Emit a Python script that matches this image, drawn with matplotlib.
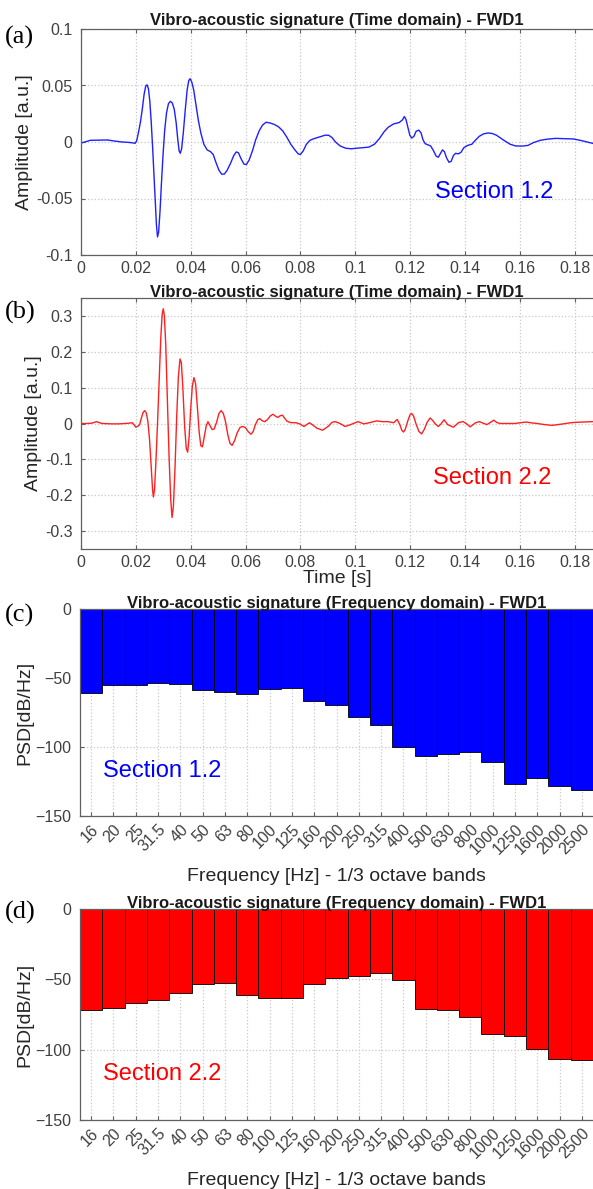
import numpy as np
import matplotlib
matplotlib.use("Agg")
from matplotlib import pyplot as plt
from matplotlib.ticker import FuncFormatter

plt.rcParams["font.family"] = ["Liberation Sans", "DejaVu Sans"]

# panel (a): time signal, section 1.2 -> (time [s], amplitude)
signal_a = np.array([
    (0.0000, -0.0009), (0.0014, 0.0000), (0.0034, 0.0015), (0.0070, 0.0017), (0.0097, 0.0018),
    (0.0117, 0.0010), (0.0150, 0.0000), (0.0172, -0.0003), (0.0190, -0.0008), (0.0197, -0.0012),
    (0.0203, 0.0010), (0.0210, 0.0090), (0.0217, 0.0180), (0.0224, 0.0300), (0.0230, 0.0420),
    (0.0236, 0.0495), (0.0241, 0.0506), (0.0246, 0.0470), (0.0251, 0.0360), (0.0256, 0.0180),
    (0.0261, -0.0040), (0.0266, -0.0290), (0.0271, -0.0540), (0.0275, -0.0730), (0.0279, -0.0840),
    (0.0283, -0.0800), (0.0288, -0.0620), (0.0293, -0.0380), (0.0299, -0.0120), (0.0305, 0.0100),
    (0.0312, 0.0260), (0.0319, 0.0340), (0.0326, 0.0360), (0.0333, 0.0345), (0.0340, 0.0290),
    (0.0347, 0.0170), (0.0353, 0.0020), (0.0358, -0.0080), (0.0362, -0.0100), (0.0367, -0.0060),
    (0.0373, 0.0080), (0.0380, 0.0280), (0.0387, 0.0460), (0.0393, 0.0545), (0.0398, 0.0560),
    (0.0404, 0.0530), (0.0411, 0.0460), (0.0419, 0.0330), (0.0428, 0.0190), (0.0437, 0.0080),
    (0.0448, -0.0020), (0.0460, -0.0070), (0.0472, -0.0085), (0.0482, -0.0110), (0.0492, -0.0180),
    (0.0503, -0.0250), (0.0513, -0.0285), (0.0523, -0.0283), (0.0533, -0.0250), (0.0545, -0.0190),
    (0.0557, -0.0120), (0.0566, -0.0088), (0.0574, -0.0095), (0.0584, -0.0150), (0.0594, -0.0195),
    (0.0603, -0.0200), (0.0613, -0.0160), (0.0625, -0.0080), (0.0637, 0.0020), (0.0650, 0.0100),
    (0.0662, 0.0150), (0.0675, 0.0175), (0.0690, 0.0168), (0.0705, 0.0155), (0.0720, 0.0135),
    (0.0735, 0.0100), (0.0750, 0.0045), (0.0765, -0.0020), (0.0780, -0.0070), (0.0792, -0.0105),
    (0.0800, -0.0110), (0.0810, -0.0080), (0.0822, -0.0020), (0.0835, 0.0015), (0.0850, 0.0030),
    (0.0870, 0.0045), (0.0890, 0.0060), (0.0903, 0.0060), (0.0915, 0.0040), (0.0928, 0.0000),
    (0.0945, -0.0035), (0.0965, -0.0055), (0.0985, -0.0060), (0.1005, -0.0055), (0.1030, -0.0050),
    (0.1050, -0.0045), (0.1070, -0.0020), (0.1088, 0.0030), (0.1105, 0.0090), (0.1120, 0.0130),
    (0.1140, 0.0160), (0.1160, 0.0172), (0.1172, 0.0195), (0.1179, 0.0225), (0.1185, 0.0200),
    (0.1192, 0.0130), (0.1199, 0.0060), (0.1206, 0.0035), (0.1214, 0.0050), (0.1222, 0.0095),
    (0.1232, 0.0105), (0.1240, 0.0080), (0.1247, 0.0020), (0.1255, -0.0015), (0.1265, -0.0025),
    (0.1275, -0.0035), (0.1285, -0.0075), (0.1295, -0.0125), (0.1303, -0.0135), (0.1311, -0.0100),
    (0.1318, -0.0070), (0.1325, -0.0085), (0.1333, -0.0140), (0.1342, -0.0180), (0.1350, -0.0170),
    (0.1358, -0.0120), (0.1366, -0.0100), (0.1376, -0.0105), (0.1386, -0.0090), (0.1396, -0.0050),
    (0.1410, -0.0030), (0.1425, -0.0020), (0.1438, 0.0015), (0.1452, 0.0050), (0.1468, 0.0072),
    (0.1485, 0.0080), (0.1500, 0.0075), (0.1515, 0.0060), (0.1530, 0.0035), (0.1545, 0.0010),
    (0.1565, -0.0020), (0.1585, -0.0035), (0.1610, -0.0036), (0.1630, -0.0030), (0.1650, -0.0005),
    (0.1675, 0.0015), (0.1700, 0.0025), (0.1730, 0.0032), (0.1760, 0.0030), (0.1795, 0.0027),
    (0.1820, 0.0015), (0.1845, 0.0000), (0.1866, -0.0012),
])

# panel (b): time signal, section 2.2 -> (time [s], amplitude)
signal_b = np.array([
    (0.0000, 0.0000), (0.0023, 0.0000), (0.0040, 0.0010), (0.0057, 0.0052), (0.0068, 0.0020),
    (0.0078, 0.0000), (0.0110, -0.0010), (0.0139, -0.0010), (0.0170, 0.0005), (0.0187, 0.0021),
    (0.0195, -0.0050), (0.0200, -0.0104), (0.0207, -0.0080), (0.0214, -0.0031), (0.0220, 0.0150),
    (0.0226, 0.0300), (0.0232, 0.0360), (0.0238, 0.0300), (0.0244, 0.0050), (0.0250, -0.0450),
    (0.0256, -0.1200), (0.0261, -0.1850), (0.0264, -0.2050), (0.0268, -0.1850), (0.0273, -0.1100),
    (0.0279, 0.0000), (0.0285, 0.1200), (0.0291, 0.2400), (0.0296, 0.3050), (0.0300, 0.3200),
    (0.0304, 0.3000), (0.0309, 0.2200), (0.0315, 0.0700), (0.0321, -0.0900), (0.0327, -0.2100),
    (0.0332, -0.2620), (0.0337, -0.2300), (0.0343, -0.1200), (0.0349, 0.0200), (0.0355, 0.1300),
    (0.0361, 0.1800), (0.0366, 0.1700), (0.0372, 0.0900), (0.0378, -0.0100), (0.0384, -0.0700),
    (0.0389, -0.0800), (0.0394, -0.0400), (0.0400, 0.0400), (0.0406, 0.1050), (0.0412, 0.1280),
    (0.0418, 0.1100), (0.0424, 0.0500), (0.0431, -0.0250), (0.0437, -0.0620), (0.0443, -0.0650),
    (0.0450, -0.0350), (0.0457, -0.0050), (0.0463, 0.0050), (0.0470, -0.0050), (0.0478, -0.0170),
    (0.0486, -0.0150), (0.0495, 0.0050), (0.0503, 0.0280), (0.0511, 0.0360), (0.0519, 0.0280),
    (0.0527, 0.0050), (0.0535, -0.0300), (0.0543, -0.0550), (0.0551, -0.0610), (0.0560, -0.0480),
    (0.0570, -0.0250), (0.0580, -0.0110), (0.0590, -0.0080), (0.0600, -0.0120), (0.0610, -0.0230),
    (0.0620, -0.0300), (0.0628, -0.0220), (0.0636, -0.0030), (0.0645, 0.0110), (0.0652, 0.0135),
    (0.0660, 0.0080), (0.0670, 0.0050), (0.0680, 0.0110), (0.0690, 0.0210), (0.0700, 0.0259),
    (0.0710, 0.0200), (0.0718, 0.0170), (0.0727, 0.0220), (0.0735, 0.0230), (0.0743, 0.0140),
    (0.0752, 0.0060), (0.0765, 0.0025), (0.0785, 0.0020), (0.0800, -0.0020), (0.0813, -0.0083),
    (0.0823, -0.0030), (0.0833, 0.0021), (0.0845, -0.0040), (0.0860, -0.0130), (0.0881, -0.0187),
    (0.0901, -0.0083), (0.0915, 0.0030), (0.0926, 0.0052), (0.0942, 0.0010), (0.0963, -0.0083),
    (0.0983, -0.0031), (0.1010, 0.0052), (0.1031, -0.0010), (0.1051, 0.0021), (0.1078, 0.0073),
    (0.1099, 0.0052), (0.1119, 0.0052), (0.1140, 0.0021), (0.1153, 0.0114), (0.1162, -0.0020),
    (0.1170, -0.0190), (0.1176, -0.0238), (0.1182, -0.0170), (0.1192, 0.0080), (0.1200, 0.0250),
    (0.1206, 0.0280), (0.1213, 0.0200), (0.1222, -0.0020), (0.1232, -0.0220), (0.1242, -0.0290),
    (0.1252, -0.0160), (0.1262, 0.0030), (0.1273, 0.0155), (0.1283, 0.0080), (0.1293, -0.0020),
    (0.1303, -0.0083), (0.1313, -0.0010), (0.1324, 0.0104), (0.1337, -0.0031), (0.1358, -0.0104),
    (0.1378, 0.0031), (0.1394, 0.0052), (0.1408, -0.0020), (0.1419, -0.0093), (0.1430, -0.0030),
    (0.1439, 0.0021), (0.1453, 0.0052), (0.1466, 0.0010), (0.1480, -0.0031), (0.1493, 0.0030),
    (0.1505, 0.0093), (0.1516, 0.0030), (0.1528, 0.0000), (0.1555, 0.0000), (0.1582, 0.0000),
    (0.1600, 0.0020), (0.1623, 0.0041), (0.1645, 0.0015), (0.1664, 0.0000), (0.1690, -0.0030),
    (0.1718, -0.0052), (0.1740, -0.0030), (0.1759, -0.0010), (0.1780, 0.0015), (0.1800, 0.0031),
    (0.1830, 0.0040), (0.1865, 0.0052),
])

# panels (c), (d): 1/3 octave band PSD [dB/Hz]
bands = ["16", "20", "25", "31.5", "40", "50", "63", "80", "100", "125", "160", "200",
         "250", "315", "400", "500", "630", "800", "1000", "1250", "1600", "2000", "2500"]
psd_c = [-61, -55, -55, -53.5, -54, -59, -60, -61.4, -58.3, -57.5, -67, -69.4,
         -77.9, -84.2, -100.2, -106.6, -105.3, -103.4, -110.7, -127, -122.8, -128.4, -131]
psd_d = [-72, -70.3, -67.1, -65, -59.7, -53.4, -52.9, -60.9, -63.3, -63.3, -53.6, -49.3,
         -47.3, -45.2, -50.5, -70.8, -71.5, -76.8, -88.6, -90.1, -99.8, -106.8, -107.5]

W, H = 593, 1189
TICK_COLOR = "#404040"
GRID_COLOR = "#c8c8c8"
TITLE_TIME = "Vibro-acoustic signature (Time domain) - FWD1"
TITLE_FREQ = "Vibro-acoustic signature (Frequency domain) - FWD1"


def rect(left, top, right, bottom):
    return [left / W, 1 - bottom / H, (right - left) / W, (bottom - top) / H]


def style(ax, title, pad=3):
    ax.set_title(title, fontsize=12, fontweight="bold", color="#1a1a1a", pad=pad)
    ax.grid(True, linestyle=":", color=GRID_COLOR, linewidth=0.9)
    ax.set_axisbelow(True)
    for sp in ax.spines.values():
        sp.set_color("#606060")
        sp.set_linewidth(0.9)
    ax.spines["right"].set_visible(False)
    ax.tick_params(direction="in", top=True, length=3, color="#606060",
                   labelsize=11.5, labelcolor=TICK_COLOR, pad=6)


fmt = FuncFormatter(lambda v, _: f"{v:g}" if abs(v) > 1e-12 else "0")

fig = plt.figure(figsize=(W / 100, H / 100), dpi=100)

# (a)
ax = fig.add_axes(rect(81, 29, 593, 255))
ax.plot(signal_a[:, 0], signal_a[:, 1], color="#1f1fff", linewidth=1.0)
ax.set_xlim(0, 0.1867)
ax.set_ylim(-0.1, 0.1)
ax.set_xticks(np.arange(0, 0.19, 0.02))
ax.set_yticks([-0.1, -0.05, 0, 0.05, 0.1])
ax.xaxis.set_major_formatter(fmt)
ax.yaxis.set_major_formatter(fmt)
style(ax, TITLE_TIME)
ax.tick_params(axis="x", pad=4)
ax.set_ylabel("Amplitude [a.u.]", fontsize=14, color="#262626", labelpad=2)
ax.text(0.129, -0.044, "Section 1.2", color="#0000ff", fontsize=17, va="center")

# (b)
ax = fig.add_axes(rect(81, 298, 593, 549))
ax.plot(signal_b[:, 0], signal_b[:, 1], color="#ff2020", linewidth=1.0)
ax.set_xlim(0, 0.1867)
ax.set_ylim(-0.35, 0.35)
ax.set_xticks(np.arange(0, 0.19, 0.02))
ax.set_yticks(np.arange(-0.3, 0.31, 0.1))
ax.xaxis.set_major_formatter(fmt)
ax.yaxis.set_major_formatter(fmt)
style(ax, TITLE_TIME, pad=1)
ax.tick_params(axis="x", pad=4)
ax.set_ylabel("Amplitude [a.u.]", fontsize=14, color="#262626", labelpad=2)
ax.set_xlabel("Time [s]", fontsize=14, color="#262626", labelpad=0)
ax.text(0.1285, -0.153, "Section 2.2", color="#ff0000", fontsize=17, va="center")

# (c), (d)
x = np.arange(1, len(bands) + 1)
for top, bottom, psd, col, label, tpad in [
    (609, 816, psd_c, "#0000ff", "Section 1.2", 0.5),
    (909, 1120, psd_d, "#ff0000", "Section 2.2", 1),
]:
    ax = fig.add_axes(rect(80, top, 593, bottom))
    ax.bar(x, psd, width=1.0, color=col, edgecolor="black", linewidth=0.6)
    ax.set_xlim(0.5, 23.5)
    ax.set_ylim(-150, 0)
    ax.set_yticks([-150, -100, -50, 0])
    ax.set_xticks(x)
    ax.set_xticklabels(bands, rotation=45, ha="right", rotation_mode="anchor")
    style(ax, TITLE_FREQ, pad=tpad)
    ax.tick_params(axis="x", pad=4)
    ax.set_ylabel("PSD[dB/Hz]", fontsize=14, color="#262626", labelpad=2)
    ax.set_xlabel("Frequency [Hz] - 1/3 octave bands", fontsize=14, color="#262626", labelpad=8)
    ax.text(0.044, -117.5, label, color=col, fontsize=17, va="center",
            transform=ax.get_yaxis_transform())

for letter, y in [("(a)", 37), ("(b)", 312), ("(c)", 615), ("(d)", 912)]:
    fig.text(5 / W, 1 - y / H, letter, family=["Liberation Serif"], fontsize=19,
             va="center", ha="left")

fig.savefig("out.png", dpi=100)
